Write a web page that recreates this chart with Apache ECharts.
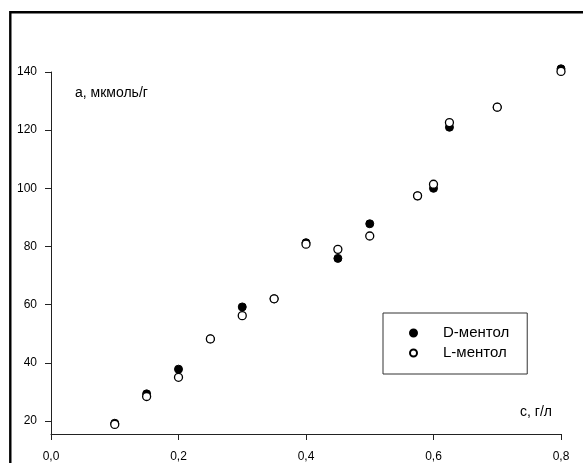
<!DOCTYPE html>
<html>
<head>
<meta charset="utf-8">
<script src="https://cdn.jsdelivr.net/npm/echarts@6/dist/echarts.min.js"></script>
<style>
  html, body { margin: 0; padding: 0; background: #fff; }
  #chart { width: 583px; height: 463px; }
</style>
</head>
<body>
<div id="chart"></div>
<script>
// Concentration, g/L
const concentration = [0.1, 0.15, 0.2, 0.25, 0.3, 0.35, 0.4, 0.45, 0.5, 0.575, 0.6, 0.625, 0.7, 0.8];
// Adsorption, µmol/g
const dMenthol = [19.2, 29.3, 37.8, 48.2, 59.2, 62.0, 81.3, 75.9, 87.8, 97.4, 100.0, 121.0, 127.9, 141.1];
const lMenthol = [18.8, 28.4, 35.0, 48.2, 56.2, 62.0, 80.8, 79.0, 83.6, 97.4, 101.4, 122.6, 127.9, 140.2];
const yTicks = [20, 40, 60, 80, 100, 120, 140];
const seriesNames = ['D-ментол', 'L-ментол'];

const FONT = '"Liberation Sans", Arial, sans-serif';
const pairs = (xs, ys) => xs.map((x, i) => [x, ys[i]]);

const chart = echarts.init(document.getElementById('chart'), null, { renderer: 'canvas' });
chart.setOption({
  animation: false,
  backgroundColor: '#fff',
  grid: { left: 51, right: 22, top: 72, bottom: 29, containLabel: false },
  xAxis: {
    type: 'value', min: 0, max: 0.8, interval: 0.2,
    splitLine: { show: false },
    axisLine: { onZero: false, lineStyle: { color: '#222', width: 1 } },
    axisTick: { show: true, length: 6, lineStyle: { color: '#222' } },
    axisLabel: {
      color: '#000', fontFamily: FONT, fontSize: 12, margin: 17,
      formatter: v => v.toFixed(1).replace('.', ',')
    }
  },
  yAxis: {
    type: 'value', min: 15.5, max: 140,
    splitLine: { show: false },
    axisLine: { show: true, onZero: false, lineStyle: { color: '#222', width: 1 } },
    axisTick: { show: true, length: 6, customValues: yTicks, lineStyle: { color: '#222' } },
    axisLabel: {
      color: '#000', fontFamily: FONT, fontSize: 12, margin: 14,
      customValues: yTicks
    }
  },
  legend: {
    orient: 'vertical', left: 383, top: 313,
    data: seriesNames,
    backgroundColor: '#fff',
    borderColor: '#333', borderWidth: 1,
    padding: [11, 18, 12, 26],
    itemGap: 2, itemWidth: 7, itemHeight: 7,
    textStyle: { fontFamily: FONT, fontSize: 15, lineHeight: 18, color: '#000', padding: [0, 0, 0, 21] }
  },
  series: [
    {
      name: seriesNames[0], type: 'scatter', symbol: 'circle', symbolSize: 8,
      clip: false,
      itemStyle: { color: '#000', borderColor: '#000', borderWidth: 1, opacity: 1 },
      emphasis: { disabled: true },
      data: pairs(concentration, dMenthol), z: 2
    },
    {
      name: seriesNames[1], type: 'scatter', symbol: 'circle', symbolSize: 8,
      clip: false,
      itemStyle: { color: '#fff', borderColor: '#000', borderWidth: 1.3, opacity: 1 },
      emphasis: { disabled: true },
      data: pairs(concentration, lMenthol), z: 3
    }
  ],
  graphic: [
    {
      type: 'rect', silent: true,
      shape: { x: 10.3, y: 12.2, width: 600, height: 500 },
      style: { fill: 'none', stroke: '#000', lineWidth: 2.4 }
    },
    {
      type: 'text', left: 75, top: 86,
      style: { text: 'а, мкмоль/г', fontFamily: FONT, fontSize: 14, fill: '#000' }
    },
    {
      type: 'text', left: 520, top: 405,
      style: { text: 'с, г/л', fontFamily: FONT, fontSize: 14, fill: '#000' }
    }
  ]
});
</script>
</body>
</html>
